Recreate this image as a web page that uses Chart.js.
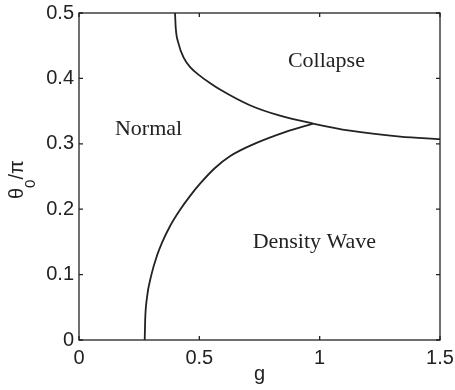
<!DOCTYPE html>
<html>
<head>
<meta charset="utf-8">
<script src="https://cdn.jsdelivr.net/npm/chart.js@4.4.0/dist/chart.umd.min.js"></script>
<style>
  html, body { margin: 0; padding: 0; background: #fff; }
</style>
</head>
<body>
<canvas id="phase" width="455" height="390"></canvas>
<script>
// boundary between normal and collapse (upper curve)
const collapseG = [0.399, 0.402, 0.413, 0.436, 0.465, 0.499, 0.544, 0.586, 0.71, 0.835, 0.972, 1.126, 1.334, 1.5];
const collapseTheta = [0.5, 0.477, 0.454, 0.431, 0.416, 0.405, 0.393, 0.383, 0.359, 0.343, 0.331, 0.32, 0.311, 0.307];

// boundary of the density wave region (lower curve)
const waveG = [0.273, 0.275, 0.281, 0.301, 0.324, 0.345, 0.378, 0.42, 0.461, 0.503, 0.565, 0.627, 0.735, 0.856, 0.972];
const waveTheta = [0, 0.031, 0.061, 0.1, 0.129, 0.149, 0.174, 0.199, 0.22, 0.239, 0.263, 0.281, 0.301, 0.318, 0.331];

const xTicks = [0, 0.5, 1, 1.5];
const yTicks = [0, 0.1, 0.2, 0.3, 0.4, 0.5];

// region names and where they sit (in data units)
const regionNames = ["Normal", "Collapse", "Density Wave"];
const regionG = [0.289, 1.028, 0.978];
const regionTheta = [0.323, 0.427, 0.15];

const ink = "#222";
const sans = "'Liberation Sans', Arial, sans-serif";
const serif = "'Liberation Serif', 'Times New Roman', serif";

function toPoints(xs, ys) {
  return xs.map((x, i) => ({ x: x, y: ys[i] }));
}

// frame, inward ticks, region labels and y title
const decor = {
  id: "decor",
  afterDraw(chart) {
    const c = chart.ctx;
    const a = chart.chartArea;
    const xs = chart.scales.x;
    const ys = chart.scales.y;
    c.save();
    c.strokeStyle = ink;
    c.lineWidth = 1.3;
    c.strokeRect(a.left, a.top, a.right - a.left, a.bottom - a.top);

    const t = 4;
    c.beginPath();
    xTicks.forEach((v) => {
      const px = xs.getPixelForValue(v);
      c.moveTo(px, a.bottom); c.lineTo(px, a.bottom - t);
      c.moveTo(px, a.top); c.lineTo(px, a.top + t);
    });
    yTicks.forEach((v) => {
      const py = ys.getPixelForValue(v);
      c.moveTo(a.left, py); c.lineTo(a.left + t, py);
      c.moveTo(a.right, py); c.lineTo(a.right - t, py);
    });
    c.stroke();

    c.fillStyle = ink;
    c.font = "22px " + serif;
    c.textAlign = "center";
    c.textBaseline = "middle";
    regionNames.forEach((name, i) => {
      c.fillText(name, xs.getPixelForValue(regionG[i]), ys.getPixelForValue(regionTheta[i]));
    });

    // y title: theta_0 / pi, rotated
    c.translate(23, 199);
    c.rotate(-Math.PI / 2);
    c.textAlign = "left";
    c.textBaseline = "alphabetic";
    c.font = "20px " + sans;
    let x = 0;
    c.fillText("\u03b8", x, 0);
    x += c.measureText("\u03b8").width;
    c.font = "15px " + sans;
    c.fillText("0", x, 12);
    x += c.measureText("0").width;
    c.font = "20px " + sans;
    c.fillText("/\u03c0", x, 0);
    c.restore();
  }
};

new Chart(document.getElementById("phase"), {
  type: "scatter",
  data: {
    datasets: [
      {
        label: "collapse",
        data: toPoints(collapseG, collapseTheta),
        showLine: true,
        borderColor: ink,
        borderWidth: 1.8,
        pointRadius: 0,
        cubicInterpolationMode: "monotone",
      },
      {
        label: "density wave",
        data: toPoints(waveG, waveTheta),
        showLine: true,
        borderColor: ink,
        borderWidth: 1.8,
        pointRadius: 0,
        cubicInterpolationMode: "monotone",
      },
    ],
  },
  options: {
    responsive: false,
    animation: false,
    layout: { padding: { top: 13, right: 15, left: 0, bottom: 0 } },
    plugins: {
      legend: { display: false },
      tooltip: { enabled: false },
    },
    scales: {
      x: {
        type: "linear",
        min: 0,
        max: 1.5,
        afterFit: (s) => { s.height = 50; s.paddingLeft = 0; s.paddingRight = 0; },
        afterBuildTicks: (s) => { s.ticks = xTicks.map((v) => ({ value: v })); },
        grid: { display: false, drawTicks: false },
        border: { display: false },
        ticks: {
          color: ink,
          padding: 6,
          font: { family: sans, size: 20 },
          callback: (v) => String(v),
        },
        title: {
          display: true,
          text: "g",
          color: ink,
          font: { family: sans, size: 20 },
          padding: { top: 0, bottom: 4 },
        },
      },
      y: {
        type: "linear",
        min: 0,
        max: 0.5,
        afterFit: (s) => { s.width = 79; s.paddingTop = 0; s.paddingBottom = 0; },
        afterBuildTicks: (s) => { s.ticks = yTicks.map((v) => ({ value: v })); },
        grid: { display: false, drawTicks: false },
        border: { display: false },
        ticks: {
          color: ink,
          padding: 5,
          font: { family: sans, size: 20 },
          callback: (v) => String(v),
        },
      },
    },
  },
  plugins: [decor],
});
</script>
</body>
</html>
